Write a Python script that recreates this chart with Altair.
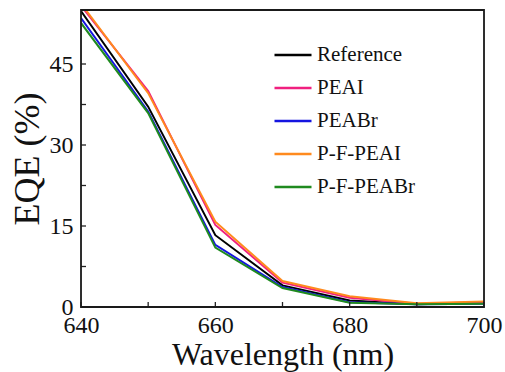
import altair as alt
import pandas as pd

wavelength = [640, 650, 660, 670, 680, 690, 700]
reference = [54.8, 37.1, 13.3, 4.0, 1.2, 0.5, 0.8]
peai = [55.8, 40.0, 15.2, 4.5, 1.7, 0.6, 0.9]
peabr = [53.5, 36.2, 11.5, 3.7, 0.9, 0.5, 0.6]
pfpeai = [56.2, 39.6, 15.8, 4.8, 2.0, 0.7, 1.0]
pfpeabr = [52.6, 35.9, 11.0, 3.5, 0.8, 0.5, 0.6]

series_names = ["Reference", "PEAI", "PEABr", "P-F-PEAI", "P-F-PEABr"]
series_values = [reference, peai, peabr, pfpeai, pfpeabr]
colors = ["#000000", "#f0207f", "#1515e0", "#ff8a1e", "#1f8a1f"]

x_major = [640, 660, 680, 700]
x_minor = [650, 670, 690]
y_major = [0, 15, 30, 45]
y_minor = [7.5, 22.5, 37.5]

rows = []
for i, (name, vals) in enumerate(zip(series_names, series_values)):
    for w, v in zip(wavelength, vals):
        rows.append({"wavelength": w, "eqe": v, "series": name, "order": i})
df = pd.DataFrame(rows)

FONT = "Liberation Serif"
W, H = 403, 297
xscale = alt.Scale(domain=[640, 700], nice=False, zero=False)
yscale = alt.Scale(domain=[0, 55], nice=False)

lines = alt.Chart(df).mark_line(strokeWidth=2, clip=True).encode(
    x=alt.X("wavelength:Q", scale=xscale,
            axis=alt.Axis(orient="bottom", values=x_major, title="Wavelength (nm)",
                          format="d", ticks=False, domain=False, grid=False,
                          labelFont=FONT, labelFontSize=24, labelColor="#111",
                          labelPadding=6, titleFont=FONT, titleFontSize=32,
                          titleFontWeight="normal", titleColor="#111", titlePadding=2,
                          labelFlush=False)),
    y=alt.Y("eqe:Q", scale=yscale,
            axis=alt.Axis(orient="left", values=y_major, title="EQE (%)",
                          format="d", ticks=False, domain=False, grid=False,
                          labelFont=FONT, labelFontSize=24, labelColor="#111",
                          labelPadding=8, titleFont=FONT, titleFontSize=36,
                          titleFontWeight="normal", titleColor="#111", titlePadding=3,
                          labelFlush=False)),
    color=alt.Color("series:N", sort=series_names,
                    scale=alt.Scale(domain=series_names, range=colors),
                    legend=alt.Legend(orient="none", legendX=192, legendY=25, title=None,
                                      symbolType="stroke", symbolSize=1369,
                                      symbolStrokeWidth=2.5, labelFont=FONT,
                                      labelFontSize=21, labelColor="#111",
                                      rowPadding=3, labelOffset=4)),
    order=alt.Order("order:Q"),
    detail="series:N",
)

xt = pd.DataFrame({"wavelength": x_major + x_minor})
yt = pd.DataFrame({"eqe": y_major + y_minor})

x_ticks = alt.Chart(xt).mark_rule(color="#222", strokeWidth=1.3).encode(
    x=alt.X("wavelength:Q", scale=xscale),
    y=alt.value(H), y2=alt.value(H - 5),
)
y_ticks = alt.Chart(yt).mark_rule(color="#222", strokeWidth=1.3).encode(
    y=alt.Y("eqe:Q", scale=yscale),
    x=alt.value(0), x2=alt.value(5),
)
frame = alt.Chart(pd.DataFrame({"f": [0]})).mark_rect(
    fill=None, stroke="#1a1a1a", strokeWidth=1.8
).encode(x=alt.value(0), x2=alt.value(W), y=alt.value(0), y2=alt.value(H))

chart = alt.layer(lines, x_ticks, y_ticks, frame).properties(
    width=W, height=H,
    autosize=alt.AutoSizeParams(type="none"),
    padding={"left": 81, "top": 10, "right": 21, "bottom": 65},
).configure_view(stroke=None).configure(background="white")

chart.save("out.html", embed_options={"renderer": "svg", "actions": False})
